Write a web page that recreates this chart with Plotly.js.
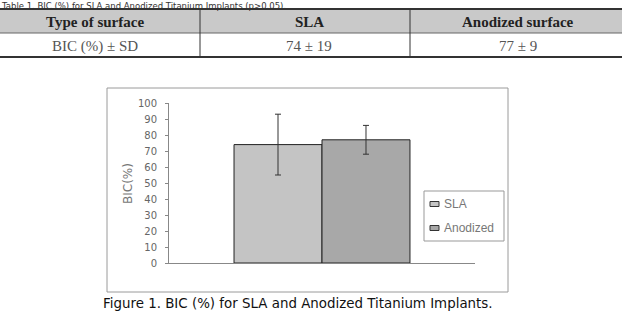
<!DOCTYPE html>
<html>
<head>
<meta charset="utf-8">
<script src="https://cdn.plot.ly/plotly-3.0.1.min.js"></script>
<style>html,body{margin:0;padding:0;background:#fff;}#chart{width:627px;height:312px;}</style>
</head>
<body>
<div id="chart"></div>
<script>
// ---- data ----
const surfaces = ["SLA", "Anodized"];
const bicMean = [74, 77];
const bicSD = [19, 9];
const category = ["BIC"];
const tableHeader = ["Type of surface", "SLA", "Anodized surface"];
const rowLabel = "BIC (%) ± SD";
const yTicks = [0, 10, 20, 30, 40, 50, 60, 70, 80, 90, 100];
const barColors = ["#c4c4c4", "#a8a8a8"];

// ---- pixel helpers (plot area: x 169..475, y 103..263) ----
const W = 627, H = 312, L = 169, R = 475, T = 103, B = 263;
const px = x => (x - L) / (R - L);
const py = y => (B - y) / (B - T);

const traces = surfaces.map((s, i) => ({
  type: "bar", name: s, x: category, y: [bicMean[i]],
  marker: {color: barColors[i], line: {color: "#222", width: 1}},
  error_y: {type: "data", array: [bicSD[i]], visible: true, color: "#333", thickness: 1, width: 3},
  showlegend: false, hoverinfo: "none"
}));

const shapes = [];
const annotations = [];
const P = {xref: "paper", yref: "paper"};
// outer chart frame
shapes.push(Object.assign({type: "rect", x0: px(107), x1: px(508), y0: py(88), y1: py(292), line: {color: "#9a9a9a", width: 1}, layer: "below"}, P));
// legend box (drawn to match the reference's compact legend)
shapes.push(Object.assign({type: "rect", x0: px(424), x1: px(504), y0: py(191), y1: py(241), line: {color: "#999", width: 1}, fillcolor: "#fff", layer: "above"}, P));
const legY = [204, 228];
surfaces.forEach((s, i) => {
  shapes.push(Object.assign({type: "rect", x0: px(430), x1: px(439), y0: py(legY[i] - 2.5), y1: py(legY[i] + 2.5), fillcolor: barColors[i], line: {color: "#333", width: 1}, layer: "above"}, P));
  annotations.push(Object.assign({x: px(442), y: py(legY[i]), text: s, showarrow: false, xanchor: "left", yanchor: "middle", font: {family: "Liberation Sans", size: 12, color: "#777"}}, P));
});
// table
const colEdges = [0, 200, 410, 622];
const tTop = 9, tMid = 33, tBot = 57;
shapes.push(Object.assign({type: "rect", x0: px(colEdges[0]), x1: px(colEdges[3]), y0: py(tTop), y1: py(tMid), fillcolor: "#c9c9c9", line: {width: 0}, layer: "below"}, P));
shapes.push(Object.assign({type: "line", x0: px(colEdges[0]), x1: px(colEdges[3]), y0: py(tTop), y1: py(tTop), line: {color: "#333", width: 2}}, P));
shapes.push(Object.assign({type: "line", x0: px(colEdges[0]), x1: px(colEdges[3]), y0: py(tMid), y1: py(tMid), line: {color: "#666", width: 1}}, P));
shapes.push(Object.assign({type: "line", x0: px(colEdges[0]), x1: px(colEdges[3]), y0: py(tBot), y1: py(tBot), line: {color: "#333", width: 2}}, P));
[1, 2].forEach(k => shapes.push(Object.assign({type: "line", x0: px(colEdges[k]), x1: px(colEdges[k]), y0: py(tTop), y1: py(tBot), line: {color: "#333", width: 1}}, P)));
const rowCells = [rowLabel].concat(bicMean.map((m, i) => m + " ± " + bicSD[i]));
const colCenters = [95, 309, 518];
tableHeader.forEach((t, k) => annotations.push(Object.assign({x: px(colCenters[k]), y: py((tTop + tMid) / 2 + 1), text: "<b>" + t + "</b>", showarrow: false, xanchor: "center", yanchor: "middle", font: {family: "Liberation Serif", size: 15, color: "#222"}}, P)));
rowCells.forEach((t, k) => annotations.push(Object.assign({x: px(colCenters[k]), y: py((tMid + tBot) / 2 + 1), text: t, showarrow: false, xanchor: "center", yanchor: "middle", font: {family: "Liberation Serif", size: 15, color: "#555"}}, P)));
// table title line at the very top
annotations.push(Object.assign({x: px(0), y: py(0), text: "Table 1. BIC (%) for SLA and Anodized Titanium Implants (p>0.05).", showarrow: false, xanchor: "left", yanchor: "top", borderpad: 0, font: {family: "DejaVu Sans", size: 8.5, color: "#333"}}, P));
// y-axis title
annotations.push(Object.assign({x: px(128), y: py(184), text: "BIC(%)", textangle: -90, showarrow: false, xanchor: "center", yanchor: "middle", font: {family: "DejaVu Sans", size: 12, color: "#777"}}, P));
// caption
annotations.push(Object.assign({x: px(298), y: py(303), text: "Figure 1. BIC (%) for SLA and Anodized Titanium Implants.", showarrow: false, xanchor: "center", yanchor: "middle", font: {family: "DejaVu Sans", size: 13.4, color: "#111"}}, P));

const layout = {
  width: W, height: H,
  margin: {l: L, r: W - R, t: T, b: H - B, pad: 0},
  paper_bgcolor: "#fff", plot_bgcolor: "#fff",
  barmode: "group", bargap: 0.425, bargroupgap: 0,
  showlegend: false,
  xaxis: {type: "category", showticklabels: false, showgrid: false, zeroline: false, showline: true, linecolor: "#888", linewidth: 1,
    ticks: "inside", ticklen: 3, tickcolor: "#888", tickson: "boundaries", fixedrange: true},
  yaxis: {range: [0, 100], tickvals: yTicks, ticktext: yTicks.map(String), showgrid: false, zeroline: false, showline: true, linecolor: "#888", linewidth: 1,
    ticks: "outside", ticklen: 3, tickcolor: "#888", tickfont: {family: "DejaVu Sans", size: 10, color: "#666"}, ticklabelstandoff: 6, fixedrange: true},
  shapes: shapes, annotations: annotations
};
Plotly.newPlot("chart", traces, layout, {staticPlot: true, displayModeBar: false});
</script>
</body>
</html>
